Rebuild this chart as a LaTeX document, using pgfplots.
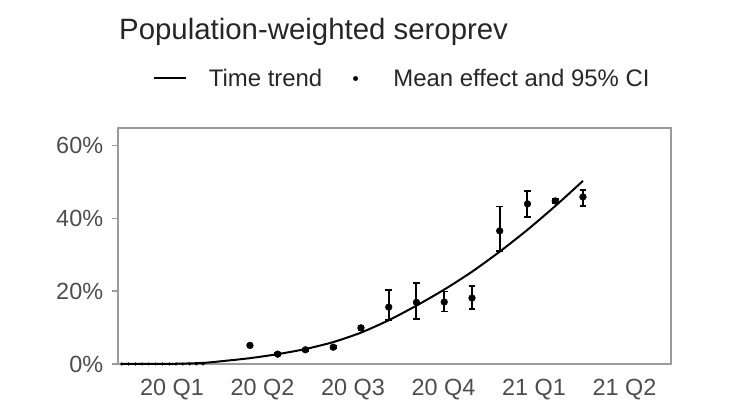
\documentclass[border=0pt]{standalone}
\usepackage{pgfplots}
\pgfplotsset{compat=1.18}
\usepackage{fontspec}
\setmainfont{Liberation Sans}
\definecolor{framegray}{HTML}{9A9A9A}
\definecolor{ticktext}{HTML}{4D4D4D}
\definecolor{titletext}{HTML}{262626}
\begin{document}
\begin{tikzpicture}
\path[use as bounding box] (0,0) rectangle (736bp,408bp);
\begin{axis}[
  at={(118bp,44bp)}, anchor=south west,
  width=553bp, height=236bp, scale only axis,
  xmin=-0.597, xmax=5.514, ymin=0, ymax=64.7,
  clip=false,
  xtick={0,1,2,3,4,5},
  xticklabels={20 Q1,20 Q2,20 Q3,20 Q4,21 Q1,21 Q2},
  ytick={0,20,40,60},
  yticklabels={0\%,20\%,40\%,60\%},
  ytick pos=left, xtick pos=bottom,
  /pgf/number format/assume math mode=true,
  axis line style={draw=framegray, line width=1.1bp},
  tick style={draw=framegray, line width=1.1bp},
  tick align=outside, major tick length=6bp,
  xtick style={draw=none},
  ticklabel style={font=\fontsize{23.5}{26}\selectfont, text=ticktext, inner sep=0pt},
  yticklabel style={anchor=east, xshift=-8.7bp},
  xticklabel style={anchor=north, yshift=-9bp},
  legend style={at={(rel axis cs:0,1)}, anchor=west, xshift=34.7bp, yshift=49.5bp,
    draw=none, fill=none, inner sep=0pt, outer sep=0pt,
    nodes={inner sep=0pt, font=\fontsize{24}{27}\selectfont, text=titletext},
    /tikz/every odd column/.append style={column sep=21.7bp},
    /tikz/every even column/.append style={column sep=17bp}},
  legend columns=2,
  legend cell align=left,
]
% time trend
\addplot[black, line width=2bp, smooth, tension=0.4,
  legend image code/.code={\draw[black, line width=2bp] (0bp,0bp) -- (32.5bp,0bp);}]
  coordinates {
  (-0.556,0) (0,0.05) (0.343,0.3) (0.6,0.9) (0.861,1.6) (1.168,2.7) (1.474,4.1)
  (1.781,6.0) (2.088,8.6) (2.395,12.0) (2.701,16.0) (3.008,20.4) (3.315,25.3)
  (3.621,30.8) (3.928,36.8) (4.235,43.3) (4.541,50.2)
  };
\addlegendentry{Time trend}
% mean effect and 95% CI
\addplot[only marks, black, mark=*, mark size=3.4bp,
  legend image code/.code={\path[draw=none, fill=none] (0bp,0bp) -- (32.5bp,0bp); \fill[black] (16.25bp,0bp) circle (2.2bp);},
  error bars/.cd, y dir=both, y explicit,
  error bar style={black, line width=2bp},
  error mark options={rotate=90, mark size=3.4bp, line width=1.8bp, black}]
  table[x=x, y=y, y error plus=ep, y error minus=em] {
  x      y     ep   em
  0.861  5.1   0.5  0.5
  1.168  2.7   0.3  0.3
  1.474  3.9   0.3  0.3
  1.781  4.6   0.3  0.3
  2.088  9.9   0.6  0.6
  2.395  15.6  4.7  3.5
  2.701  16.9  5.3  4.5
  3.008  17.0  2.9  2.6
  3.315  18.1  3.2  3.0
  3.621  36.5  6.7  5.6
  3.928  43.9  3.6  3.6
  4.235  44.7  0.6  0.6
  4.541  45.8  2.0  2.4
  };
\addlegendentry{Mean effect and 95\% CI}
% small near-zero estimates
\addplot[only marks, black, mark=*, mark size=1.3bp, forget plot]
  coordinates {
  (-0.556,0) (-0.481,0) (-0.406,0) (-0.331,0) (-0.256,0) (-0.181,0) (-0.106,0)
  (-0.031,0) (0.044,0) (0.119,0) (0.194,0) (0.269,0) (0.343,0)
  };
\end{axis}
\node[anchor=base west, inner sep=0pt, text=titletext, font=\fontsize{29.5}{33}\selectfont]
  at (119bp,368bp) {Population-weighted seroprev};
\end{tikzpicture}
\end{document}
